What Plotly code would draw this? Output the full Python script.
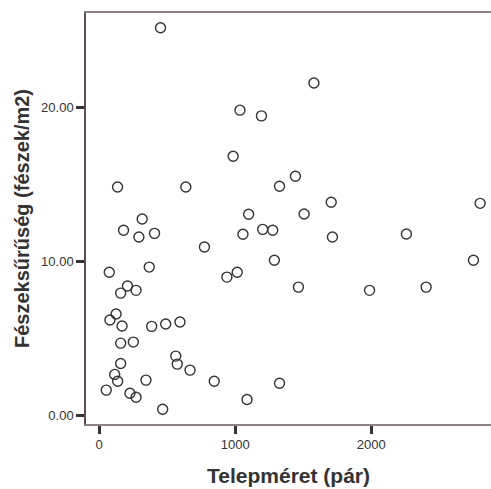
import plotly.graph_objects as go

# Colony size (pairs) and nest density (nests/m2) for each colony
telepmeret = [451, 1579, 1035, 1193, 985, 135, 637, 1326, 1443, 1706,
              2801, 316, 1099, 1507, 179, 292, 407, 1057, 1202, 1276,
              1715, 2259, 774, 1288, 2752, 1465, 1988, 2404, 939, 1015,
              74, 368, 208, 271, 158, 124, 79, 168, 386, 489,
              594, 158, 251, 563, 574, 668, 158, 114, 136, 344,
              846, 52, 226, 271, 467, 1326, 1087]
fészeksűrűség = [25.18, 21.59, 19.83, 19.46, 16.84, 14.84, 14.84, 14.89, 15.54, 13.85,
                 13.78, 12.76, 13.07, 13.09, 12.03, 11.59, 11.83, 11.77, 12.09, 12.03,
                 11.59, 11.79, 10.94, 10.08, 10.08, 8.34, 8.13, 8.34, 8.99, 9.30,
                 9.30, 9.64, 8.41, 8.13, 7.95, 6.59, 6.20, 5.81, 5.79, 5.94,
                 6.07, 4.70, 4.77, 3.86, 3.34, 2.95, 3.38, 2.67, 2.23, 2.30,
                 2.23, 1.65, 1.45, 1.19, 0.41, 2.10, 1.04]

x_ticks = [0, 1000, 2000]
y_ticks = [0, 10, 20]
y_tick_labels = ["0.00", "10.00", "20.00"]

font_family = "Liberation Sans, Arial, sans-serif"

fig = go.Figure(
    go.Scatter(
        x=telepmeret,
        y=fészeksűrűség,
        mode="markers",
        marker=dict(symbol="circle-open", size=10, color="#333333",
                    line=dict(color="#333333", width=1.4)),
        hoverinfo="x+y",
    )
)

fig.update_layout(
    width=491,
    height=489,
    margin=dict(l=86, r=0, t=13, b=65),
    paper_bgcolor="white",
    plot_bgcolor="white",
    showlegend=False,
    font=dict(family=font_family, color="#333333"),
)

fig.update_xaxes(
    range=[-97, 2881],
    tickvals=x_ticks,
    ticktext=[str(v) for v in x_ticks],
    ticks="outside",
    ticklen=8,
    tickwidth=3,
    tickcolor="#333333",
    tickfont=dict(size=13, color="#333333"),
    showline=True,
    linecolor="#8c8282",
    linewidth=1.5,
    mirror=True,
    showgrid=False,
    zeroline=False,
    title=dict(text="<b>Telepméret (pár)</b>",
               font=dict(size=21, color="#333333"), standoff=17),
)

fig.update_yaxes(
    range=[-0.55, 26.14],
    tickvals=y_ticks,
    ticktext=y_tick_labels,
    ticks="outside",
    ticklen=8,
    tickwidth=3,
    tickcolor="#333333",
    tickfont=dict(size=13, color="#333333"),
    showline=True,
    linecolor="#5e5050",
    linewidth=1.5,
    showgrid=False,
    zeroline=False,
    title=dict(text="<b>Fészeksűrűség (fészek/m2)</b>",
               font=dict(size=20, color="#333333"), standoff=6),
)

fig.write_html("out.html")
